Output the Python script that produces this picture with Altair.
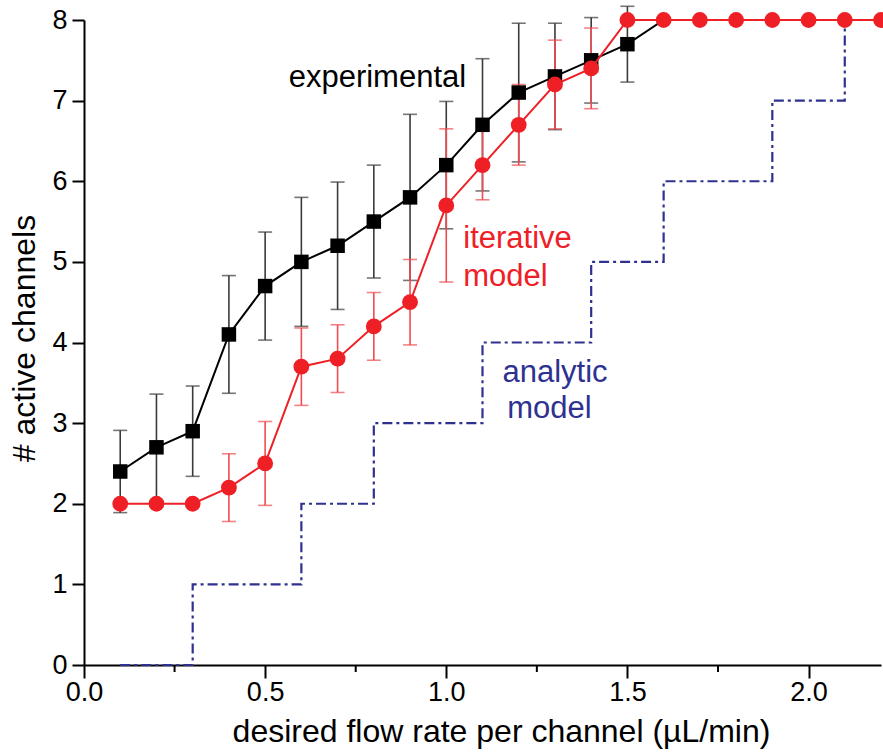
import altair as alt
import pandas as pd

# Desired flow rate per channel (uL/min)
flow = [0.1, 0.2, 0.3, 0.4, 0.5, 0.6, 0.7, 0.8, 0.9, 1.0, 1.1,
        1.2, 1.3, 1.4, 1.5, 1.6, 1.7, 1.8, 1.9, 2.0, 2.1, 2.2]

# Experimental: mean active channels and standard deviation
exp_mean = [2.4, 2.7, 2.9, 4.1, 4.7, 5.0, 5.2, 5.5, 5.8, 6.2, 6.7,
            7.1, 7.3, 7.5, 7.7, 8, 8, 8, 8, 8, 8, 8]
exp_sd = [0.51, 0.66, 0.56, 0.73, 0.67, 0.8, 0.79, 0.7, 1.03, 0.79, 0.82,
          0.86, 0.66, 0.53, 0.47, 0, 0, 0, 0, 0, 0, 0]

# Iterative model: mean active channels and standard deviation
it_mean = [2, 2, 2, 2.2, 2.5, 3.7, 3.8, 4.2, 4.5, 5.7, 6.2,
           6.7, 7.2, 7.4, 8, 8, 8, 8, 8, 8, 8, 8]
it_sd = [0, 0, 0, 0.42, 0.52, 0.48, 0.42, 0.42, 0.53, 0.95, 0.43,
         0.5, 0.55, 0.5, 0, 0, 0, 0, 0, 0, 0, 0]

# Analytic model: step function (value holds until the next breakpoint)
step_x = [0.1, 0.3, 0.6, 0.8, 1.1, 1.4, 1.6, 1.9, 2.1, 2.2]
step_y = [0, 1, 2, 3, 4, 5, 6, 7, 8, 8]

minor_ticks = [0.25, 0.75, 1.25, 1.75]

# Series labels placed next to the curves
label_text = ["experimental", "iterative", "model", "analytic", "model"]
label_x = [0.565, 1.047, 1.047, 1.155, 1.168]
label_y = [7.17, 5.17, 4.70, 3.51, 3.06]
label_color = ["#000000", "#ee2026", "#ee2026", "#2e3190", "#2e3190"]

FONT = "Liberation Sans, Arial, Helvetica, sans-serif"
RED = "#ee2026"
NAVY = "#2e3190"

exp_df = pd.DataFrame({"x": flow, "y": exp_mean,
                       "lo": [m - s for m, s in zip(exp_mean, exp_sd)],
                       "hi": [m + s for m, s in zip(exp_mean, exp_sd)]})
it_df = pd.DataFrame({"x": flow, "y": it_mean,
                      "lo": [m - s for m, s in zip(it_mean, it_sd)],
                      "hi": [m + s for m, s in zip(it_mean, it_sd)]})
# measured experimental points (the saturated tail is drawn by the line only)
exp_meas = exp_df[[s > 0 for s in exp_sd]]
it_bars = it_df[[s > 0 for s in it_sd]]
step_df = pd.DataFrame({"x": step_x, "y": step_y})
minor_df = pd.DataFrame({"x": minor_ticks})
label_df = pd.DataFrame({"t": label_text, "x": label_x, "y": label_y, "c": label_color})

xscale = alt.Scale(domain=[0, 2.2], nice=False, zero=False)
yscale = alt.Scale(domain=[0, 8], nice=False)

x_axis = alt.Axis(values=[0, 0.5, 1.0, 1.5, 2.0], format=".1f", grid=False,
                  tickSize=13, tickWidth=2, tickColor="black",
                  domainColor="black", domainWidth=2,
                  labelFont=FONT, labelFontSize=27, labelColor="black", labelPadding=1,
                  labelFlush=False,
                  title="desired flow rate per channel (\u00b5L/min)",
                  titleFont=FONT, titleFontSize=32, titleFontWeight="normal",
                  titleColor="black", titleX=417, titleY=76,
                  titleAlign="center", titleBaseline="alphabetic")
y_axis = alt.Axis(values=list(range(0, 9)), format="d", grid=False,
                  tickSize=12, tickWidth=2, tickColor="black",
                  domainColor="black", domainWidth=2,
                  labelFont=FONT, labelFontSize=27, labelColor="black", labelPadding=5,
                  labelFlush=False,
                  title="# active channels",
                  titleFont=FONT, titleFontSize=32, titleFontWeight="normal",
                  titleColor="black", titleX=-50, titleY=318, titleAngle=-90,
                  titleAlign="center", titleBaseline="alphabetic")

X = alt.X("x:Q", scale=xscale, axis=x_axis)
Y = alt.Y("y:Q", scale=yscale, axis=y_axis)

minor = alt.Chart(minor_df).mark_rule(color="black", strokeWidth=2).encode(
    x=alt.X("x:Q", scale=xscale), y=alt.value(645), y2=alt.value(652))

analytic = alt.Chart(step_df).mark_line(
    color=NAVY, strokeWidth=2.2, interpolate="step-after",
    strokeDash=[10, 4, 3, 4]).encode(x=X, y=Y)

exp_err = alt.Chart(exp_meas).mark_rule(color="#3a3a3a", strokeWidth=1.6).encode(
    x=alt.X("x:Q", scale=xscale), y=alt.Y("lo:Q", scale=yscale), y2="hi:Q")
exp_cap_lo = alt.Chart(exp_meas).mark_tick(color="#3a3a3a", orient="horizontal",
                                           size=14, thickness=1.6).encode(
    x=alt.X("x:Q", scale=xscale), y=alt.Y("lo:Q", scale=yscale))
exp_cap_hi = alt.Chart(exp_meas).mark_tick(color="#3a3a3a", orient="horizontal",
                                           size=14, thickness=1.6).encode(
    x=alt.X("x:Q", scale=xscale), y=alt.Y("hi:Q", scale=yscale))

it_err = alt.Chart(it_bars).mark_rule(color="#f04b50", strokeWidth=1.6).encode(
    x=alt.X("x:Q", scale=xscale), y=alt.Y("lo:Q", scale=yscale), y2="hi:Q")
it_cap_lo = alt.Chart(it_bars).mark_tick(color="#f04b50", orient="horizontal",
                                         size=14, thickness=1.6).encode(
    x=alt.X("x:Q", scale=xscale), y=alt.Y("lo:Q", scale=yscale))
it_cap_hi = alt.Chart(it_bars).mark_tick(color="#f04b50", orient="horizontal",
                                         size=14, thickness=1.6).encode(
    x=alt.X("x:Q", scale=xscale), y=alt.Y("hi:Q", scale=yscale))

exp_line = alt.Chart(exp_df).mark_line(color="black", strokeWidth=2).encode(x=X, y=Y)
exp_pts = alt.Chart(exp_meas).mark_point(shape="square", filled=True, opacity=1,
                                         color="black", size=210).encode(x=X, y=Y)
it_line = alt.Chart(it_df).mark_line(color=RED, strokeWidth=2).encode(x=X, y=Y)
it_pts = alt.Chart(it_df).mark_point(shape="circle", filled=True, opacity=1,
                                     color=RED, size=250).encode(x=X, y=Y)

labels = alt.Chart(label_df).mark_text(font=FONT, fontSize=31, align="left",
                                       baseline="alphabetic").encode(
    x=alt.X("x:Q", scale=xscale), y=alt.Y("y:Q", scale=yscale),
    text="t:N", color=alt.Color("c:N", scale=None))

chart = alt.layer(
    analytic, minor, exp_err, exp_cap_lo, exp_cap_hi,
    it_err, it_cap_lo, it_cap_hi,
    exp_line, exp_pts, it_line, it_pts, labels
).properties(
    width=797, height=645,
    padding={"left": 84, "top": 20, "right": 2, "bottom": 87},
    autosize=alt.AutoSizeParams(type="none"),
    background="white"
).configure_view(stroke=None, clip=False)

chart.save("out.html", embed_options={"renderer": "svg", "actions": False})
